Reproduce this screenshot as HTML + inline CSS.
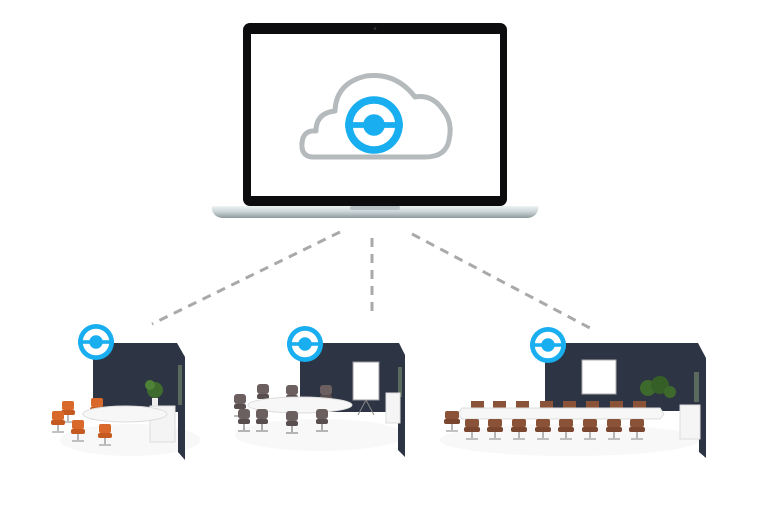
<!DOCTYPE html>
<html><head><meta charset="utf-8"><style>html,body{margin:0;padding:0;background:#fff;width:774px;height:508px;overflow:hidden}</style></head>
<body>
<svg width="774" height="508" viewBox="0 0 774 508" xmlns="http://www.w3.org/2000/svg">
<defs>
<linearGradient id="base" x1="0" y1="0" x2="0" y2="1"><stop offset="0" stop-color="#eef2f3"/><stop offset="0.5" stop-color="#c9d3d6"/><stop offset="1" stop-color="#8e999c"/></linearGradient>
<g id="logo"><circle r="18" fill="#18aef0"/><circle r="10" fill="none" stroke="#fff" stroke-width="6.5"/><rect x="-18" y="-1.8" width="36" height="3.6" fill="#18aef0"/><circle r="4.5" fill="#18aef0"/></g>
<g id="chairO"><rect x="-6" y="-10" width="12" height="9" rx="2" fill="#d8692a"/><rect x="-7" y="-1" width="14" height="5" rx="2" fill="#c45a20"/><line x1="0" y1="4" x2="0" y2="10" stroke="#888" stroke-width="1.2"/><line x1="-6" y1="11" x2="6" y2="11" stroke="#999" stroke-width="1.2"/></g>
<g id="chairG"><rect x="-6" y="-11" width="12" height="10" rx="3" fill="#6b5f60"/><rect x="-6" y="-1" width="12" height="5" rx="2" fill="#594e4f"/><line x1="0" y1="4" x2="0" y2="10" stroke="#777" stroke-width="1.2"/><line x1="-6" y1="11" x2="6" y2="11" stroke="#888" stroke-width="1.2"/></g>
<g id="chairB"><rect x="-7" y="-9" width="14" height="8" rx="2" fill="#8a5237"/><rect x="-8" y="-1" width="16" height="5" rx="2" fill="#7a4630"/><line x1="0" y1="4" x2="0" y2="10" stroke="#888" stroke-width="1.2"/><line x1="-6" y1="11" x2="6" y2="11" stroke="#999" stroke-width="1.2"/></g>
</defs>

<!-- laptop -->
<rect x="243" y="23" width="264" height="183" rx="7" fill="#0c0c0e"/>
<rect x="251" y="34" width="249" height="162" fill="#fff"/>
<circle cx="375" cy="28.5" r="1.3" fill="#333"/>
<path d="M214 206 H537 Q539 206 538 210 Q536 217 528 218 H222 Q214 217 212 210 Q211 206 214 206 Z" fill="url(#base)"/>
<rect x="350" y="206" width="50" height="4" rx="2" fill="#b9c3c6"/>
<!-- cloud -->
<path d="M312 157 Q301 156 302 143 Q303 130 316 131 Q316 113 335 111 Q336 83 366 76 Q396 72 415 97 Q432 94 443 110 Q453 122 449 140 Q446 157 425 157 Z" fill="none" stroke="#b5babd" stroke-width="5" stroke-linejoin="round"/>
<g transform="translate(374,125) scale(1.6)"><use href="#logo"/></g>

<!-- dashed connectors -->
<g stroke="#a9a9a9" stroke-width="3" stroke-dasharray="9,7" fill="none">
<line x1="340" y1="232" x2="152" y2="324"/>
<line x1="372" y1="238" x2="372" y2="318"/>
<line x1="412" y1="234" x2="590" y2="328"/>
</g>

<!-- room 1 -->
<ellipse cx="130" cy="440" rx="70" ry="16" fill="#f8f8f8"/>
<rect x="93" y="343" width="78" height="70" fill="#2d3444"/>
<polygon points="170,343 177,343 185,357 185,460 178,452 178,412 170,412" fill="#2d3444"/>
<rect x="178" y="365" width="4" height="40" fill="#5b6a5f"/>
<circle cx="155" cy="390" r="8" fill="#3f6b2e"/><circle cx="150" cy="385" r="5" fill="#4e8236"/><rect x="152" y="398" width="6" height="8" fill="#eee"/>
<rect x="150" y="406" width="25" height="36" fill="#f4f4f4" stroke="#ddd"/>
<g transform="translate(68,411)"><use href="#chairO"/></g>
<g transform="translate(97,408)"><use href="#chairO"/></g>
<g transform="translate(58,421)"><use href="#chairO"/></g>
<ellipse cx="125" cy="414" rx="42" ry="8" fill="#f7f7f7" stroke="#ddd"/>
<g transform="translate(78,430)"><use href="#chairO"/></g>
<g transform="translate(105,434)"><use href="#chairO"/></g>
<g transform="translate(96,342)"><use href="#logo"/></g>

<!-- room 2 -->
<ellipse cx="320" cy="435" rx="85" ry="16" fill="#f8f8f8"/>
<rect x="300" y="343" width="94" height="69" fill="#2d3444"/>
<polygon points="393,343 399,343 405,355 405,457 398,450 398,412 393,412" fill="#2d3444"/>
<rect x="398" y="367" width="4" height="30" fill="#5b6a5f"/>
<rect x="353" y="362" width="26" height="38" fill="#fff" stroke="#999"/>
<line x1="366" y1="400" x2="358" y2="415" stroke="#888"/><line x1="366" y1="400" x2="374" y2="415" stroke="#888"/>
<rect x="386" y="393" width="14" height="30" fill="#f5f5f5" stroke="#ddd"/>
<g transform="translate(263,395)"><use href="#chairG"/></g>
<g transform="translate(292,396)"><use href="#chairG"/></g>
<g transform="translate(326,396)"><use href="#chairG"/></g>
<g transform="translate(240,405)"><use href="#chairG"/></g>
<ellipse cx="300" cy="405" rx="52" ry="8" fill="#f7f7f7" stroke="#ddd"/>
<g transform="translate(244,420)"><use href="#chairG"/></g>
<g transform="translate(262,420)"><use href="#chairG"/></g>
<g transform="translate(292,422)"><use href="#chairG"/></g>
<g transform="translate(322,420)"><use href="#chairG"/></g>
<g transform="translate(305,344)"><use href="#logo"/></g>

<!-- room 3 -->
<ellipse cx="570" cy="440" rx="130" ry="16" fill="#f8f8f8"/>
<rect x="545" y="343" width="148" height="68" fill="#2d3444"/>
<polygon points="692,343 698,343 706,358 706,458 699,452 699,411 692,411" fill="#2d3444"/>
<rect x="694" y="372" width="5" height="30" fill="#5b6a5f"/>
<rect x="582" y="360" width="34" height="34" fill="#fff" stroke="#aaa"/>
<circle cx="648" cy="388" r="8" fill="#3d6a2c"/><circle cx="660" cy="385" r="9" fill="#355f27"/><circle cx="670" cy="392" r="6" fill="#3d6a2c"/>
<rect x="680" y="405" width="20" height="34" fill="#f5f5f5" stroke="#ddd"/>
<g fill="#8a5237">
<rect x="471" y="401" width="13" height="7"/><rect x="493" y="401" width="13" height="7"/><rect x="516" y="401" width="13" height="7"/><rect x="540" y="401" width="13" height="7"/><rect x="563" y="401" width="13" height="7"/><rect x="586" y="401" width="13" height="7"/><rect x="610" y="401" width="13" height="7"/><rect x="633" y="401" width="13" height="7"/>
</g>
<polygon points="462,408 660,408 664,414 660,419 462,419 458,414" fill="#f7f7f7" stroke="#ddd"/>
<g transform="translate(452,420)"><use href="#chairB"/></g>
<g transform="translate(472,428)"><use href="#chairB"/></g>
<g transform="translate(495,428)"><use href="#chairB"/></g>
<g transform="translate(519,428)"><use href="#chairB"/></g>
<g transform="translate(543,428)"><use href="#chairB"/></g>
<g transform="translate(566,428)"><use href="#chairB"/></g>
<g transform="translate(590,428)"><use href="#chairB"/></g>
<g transform="translate(614,428)"><use href="#chairB"/></g>
<g transform="translate(637,428)"><use href="#chairB"/></g>
<g transform="translate(548,345)"><use href="#logo"/></g>
</svg>
</body></html>
